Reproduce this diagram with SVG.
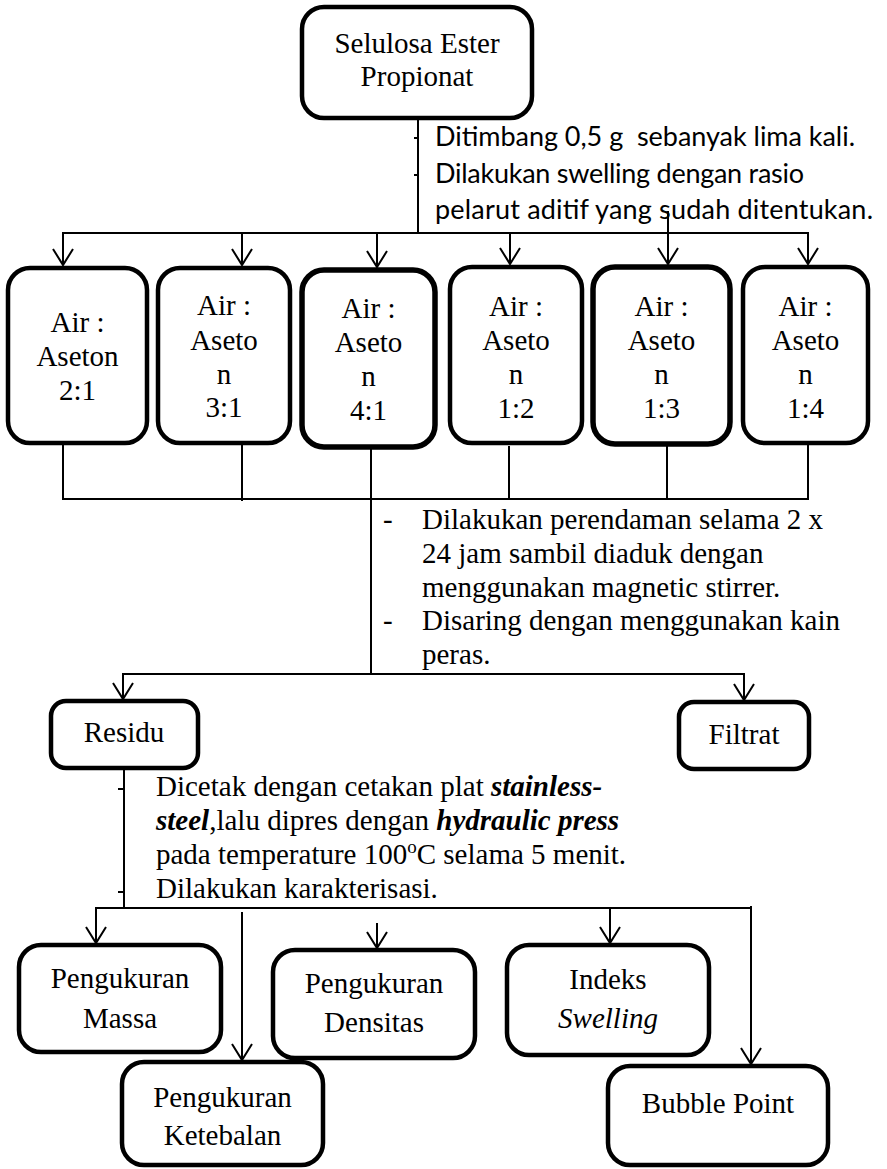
<svg xmlns="http://www.w3.org/2000/svg" width="887" height="1169" viewBox="0 0 887 1169">
<style>
.box{fill:#fff;stroke:#000;stroke-width:4.5}
.thick{stroke-width:5.5}
.ln{fill:none;stroke:#000;stroke-width:2}
.arr{fill:none;stroke:#000;stroke-width:2;marker-end:url(#ah)}
.t{font-family:"Liberation Serif","Times New Roman",serif;font-size:29px;fill:#000}
.c{text-anchor:middle}
.s{font-family:Lato,"Liberation Sans",sans-serif;font-size:27px;fill:#000}
.bi{font-weight:bold;font-style:italic}
</style>
<defs>
<marker id="ah" markerUnits="userSpaceOnUse" viewBox="-18 -12 20 24" markerWidth="20" markerHeight="24" refX="0" refY="0" orient="auto">
<path d="M-16,-10 L0,0 L-16,10" fill="none" stroke="#000" stroke-width="2"/>
</marker>
</defs>
<rect width="887" height="1169" fill="#fff"/>
<g id="connectors">
<line class="ln" x1="418" y1="118" x2="418" y2="233"/>
<line class="ln" x1="414" y1="138" x2="418" y2="138"/>
<line class="ln" x1="414" y1="175" x2="418" y2="175"/>
<line class="ln" x1="62" y1="233" x2="809" y2="233"/>
<line class="arr" x1="63" y1="233" x2="63" y2="265"/>
<line class="arr" x1="242" y1="233" x2="242" y2="265"/>
<line class="arr" x1="377" y1="233" x2="377" y2="267"/>
<line class="arr" x1="510" y1="233" x2="510" y2="264"/>
<line class="arr" x1="668" y1="211" x2="668" y2="264"/>
<line class="arr" x1="808" y1="233" x2="808" y2="264"/>
<line class="ln" x1="63" y1="443" x2="63" y2="499"/>
<line class="ln" x1="242" y1="443" x2="242" y2="501"/>
<line class="ln" x1="509" y1="446" x2="509" y2="499"/>
<line class="ln" x1="667" y1="440" x2="667" y2="499"/>
<line class="ln" x1="808" y1="443" x2="808" y2="499"/>
<line class="ln" x1="62" y1="499" x2="809" y2="499"/>
<line class="ln" x1="371" y1="440" x2="371" y2="674"/>
<line class="ln" x1="122" y1="674" x2="745" y2="674"/>
<line class="arr" x1="123" y1="674" x2="123" y2="699"/>
<line class="arr" x1="744" y1="674" x2="744" y2="700"/>
<line class="ln" x1="124" y1="768" x2="124" y2="908"/>
<line class="ln" x1="118" y1="789" x2="124" y2="789"/>
<line class="ln" x1="118" y1="892" x2="124" y2="892"/>
<line class="ln" x1="95" y1="908" x2="752" y2="908"/>
<line class="arr" x1="96" y1="908" x2="96" y2="943"/>
<line class="arr" x1="242" y1="912" x2="242" y2="1060"/>
<line class="arr" x1="377" y1="923" x2="377" y2="948"/>
<line class="arr" x1="610" y1="908" x2="610" y2="943"/>
<line class="arr" x1="751" y1="906" x2="751" y2="1064"/>
</g>
<g id="n-selulosa">
<rect class="box" x="302" y="7" width="230" height="111" rx="22"/>
<text class="t c" x="417" y="53">Selulosa Ester</text>
<text class="t c" x="417" y="86">Propionat</text>
</g>
<g id="step1-text">
<text class="s" x="435" y="146" textLength="420" xml:space="preserve">Ditimbang 0,5 g  sebanyak lima kali.</text>
<text class="s" x="435" y="183" textLength="369">Dilakukan swelling dengan rasio</text>
<text class="s" x="435" y="219" textLength="438">pelarut aditif yang sudah ditentukan.</text>
</g>
<g id="n-21">
<rect class="box" x="8" y="268" width="139" height="175" rx="22"/>
<text class="t c" x="77.5" y="332">Air :</text>
<text class="t c" x="77.5" y="366">Aseton</text>
<text class="t c" x="77.5" y="400">2:1</text>
</g>
<g id="n-31">
<rect class="box" x="158" y="268" width="132" height="175" rx="22"/>
<text class="t c" x="224" y="315">Air :</text>
<text class="t c" x="224" y="350">Aseto</text>
<text class="t c" x="224" y="384">n</text>
<text class="t c" x="224" y="417">3:1</text>
</g>
<g id="n-41">
<rect class="box thick" x="302" y="270" width="133" height="177" rx="22"/>
<text class="t c" x="368.5" y="318">Air :</text>
<text class="t c" x="368.5" y="352">Aseto</text>
<text class="t c" x="368.5" y="386">n</text>
<text class="t c" x="368.5" y="420">4:1</text>
</g>
<g id="n-12">
<rect class="box" x="450" y="267" width="132" height="176" rx="22"/>
<text class="t c" x="516" y="316">Air :</text>
<text class="t c" x="516" y="350">Aseto</text>
<text class="t c" x="516" y="384">n</text>
<text class="t c" x="516" y="418">1:2</text>
</g>
<g id="n-13">
<rect class="box thick" x="593" y="267" width="137" height="177" rx="22"/>
<text class="t c" x="661.5" y="316">Air :</text>
<text class="t c" x="661.5" y="350">Aseto</text>
<text class="t c" x="661.5" y="384">n</text>
<text class="t c" x="661.5" y="418">1:3</text>
</g>
<g id="n-14">
<rect class="box" x="743" y="267" width="125" height="176" rx="22"/>
<text class="t c" x="805.5" y="316">Air :</text>
<text class="t c" x="805.5" y="350">Aseto</text>
<text class="t c" x="805.5" y="384">n</text>
<text class="t c" x="805.5" y="418">1:4</text>
</g>
<g id="step2-text">
<text class="t" x="383" y="529">-</text>
<text class="t" x="422" y="529">Dilakukan perendaman selama 2 x</text>
<text class="t" x="422" y="563">24 jam sambil diaduk dengan</text>
<text class="t" x="422" y="597">menggunakan magnetic stirrer.</text>
<text class="t" x="383" y="630">-</text>
<text class="t" x="422" y="630">Disaring dengan menggunakan kain</text>
<text class="t" x="422" y="664">peras.</text>
</g>
<g id="n-residu">
<rect class="box" x="51" y="701" width="147" height="67" rx="15"/>
<text class="t c" x="124" y="742">Residu</text>
</g>
<g id="n-filtrat">
<rect class="box" x="679" y="702" width="130" height="67" rx="15"/>
<text class="t c" x="744" y="744">Filtrat</text>
</g>
<g id="step3-text">
<text class="t" x="156" y="796">Dicetak dengan cetakan plat <tspan class="bi">stainless-</tspan></text>
<text class="t" x="156" y="830"><tspan class="bi">steel</tspan>,lalu dipres dengan <tspan class="bi">hydraulic press</tspan></text>
<text class="t" x="156" y="864">pada temperature 100<tspan font-size="19" dy="-11">o</tspan><tspan dy="11">C selama 5 menit.</tspan></text>
<text class="t" x="156" y="898">Dilakukan karakterisasi.</text>
</g>
<g id="n-massa">
<rect class="box" x="19" y="945" width="202" height="107" rx="22"/>
<text class="t c" x="120" y="988">Pengukuran</text>
<text class="t c" x="120" y="1028">Massa</text>
</g>
<g id="n-ketebalan">
<rect class="box" x="122" y="1062" width="201" height="103" rx="22"/>
<text class="t c" x="222.5" y="1107">Pengukuran</text>
<text class="t c" x="222.5" y="1145">Ketebalan</text>
</g>
<g id="n-densitas">
<rect class="box" x="273" y="950" width="202" height="108" rx="22"/>
<text class="t c" x="374" y="993">Pengukuran</text>
<text class="t c" x="374" y="1032">Densitas</text>
</g>
<g id="n-swelling">
<rect class="box" x="507" y="945" width="202" height="110" rx="22"/>
<text class="t c" x="608" y="989">Indeks</text>
<text class="t c" x="608" y="1028" font-style="italic">Swelling</text>
</g>
<g id="n-bubble">
<rect class="box" x="608" y="1066" width="220" height="99" rx="22"/>
<text class="t c" x="718" y="1113">Bubble Point</text>
</g>
</svg>
